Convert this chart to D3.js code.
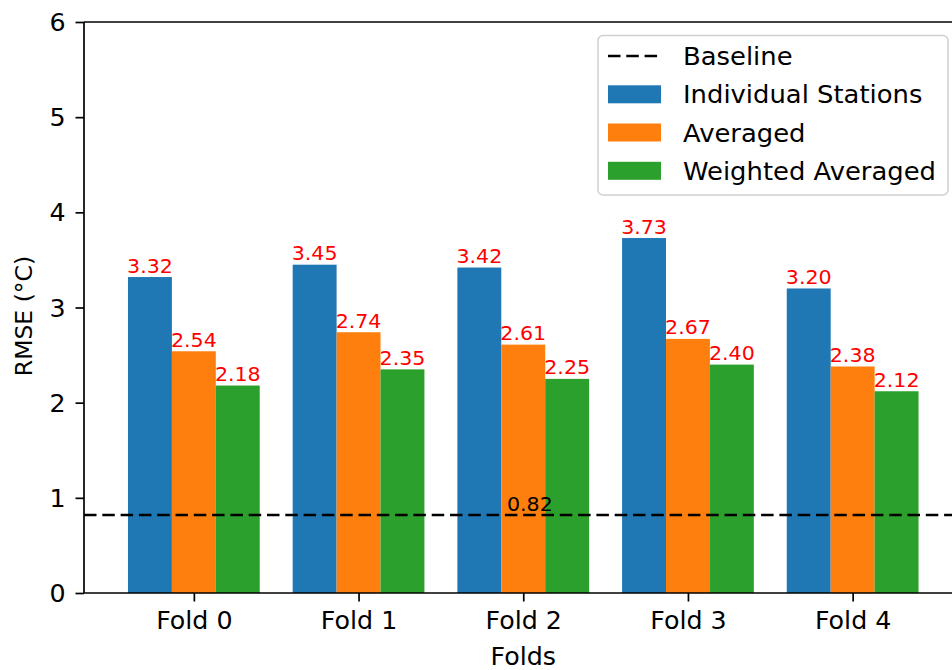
<!DOCTYPE html>
<html>
<head>
<meta charset="utf-8">
<script src="https://cdn.jsdelivr.net/npm/d3@7/dist/d3.min.js"></script>
<style>
  html, body { margin: 0; padding: 0; background: #fff; }
  svg { display: block; font-family: "DejaVu Sans", sans-serif; }
</style>
</head>
<body>
<svg id="chart" width="952" height="670"></svg>
<script>
// Cross-validation RMSE per fold for three interpolation strategies
const folds = ["Fold 0", "Fold 1", "Fold 2", "Fold 3", "Fold 4"];
const seriesNames = ["Individual Stations", "Averaged", "Weighted Averaged"];
const individualStations = [3.32, 3.45, 3.42, 3.73, 3.20];
const averaged = [2.54, 2.74, 2.61, 2.67, 2.38];
const weightedAveraged = [2.18, 2.35, 2.25, 2.40, 2.12];
const baselineValue = 0.82;
const yTicks = [0, 1, 2, 3, 4, 5, 6];
const colors = ["#1f77b4", "#ff7f0e", "#2ca02c"];

const series = [individualStations, averaged, weightedAveraged];

const svg = d3.select("#chart");
const plotTop = 22, plotBottom = 593;
const sx = 1.055; // slight horizontal stretch of glyphs

// x in fold units; the plot spans -0.667 .. 4.667 (right edge runs off the canvas)
const xMin = -0.667, xMax = 4.667;
const x = d3.scaleLinear().domain([xMin, xMax]).range([84, 962.5]);
const barW = 0.8 / 3;

const y = d3.scaleLinear().domain([0, 6]).range([plotBottom, plotTop]);

const place = (px, py) => `translate(${px},${py}) scale(${sx},1)`;

// bars
series.forEach((vals, k) => {
  const off = (k - 1) * barW;
  svg.append("g").selectAll("rect")
    .data(vals)
    .join("rect")
    .attr("x", (d, i) => x(i + off - barW / 2))
    .attr("width", (d, i) => x(i + off + barW / 2) - x(i + off - barW / 2))
    .attr("y", d => y(d))
    .attr("height", d => y(0) - y(d))
    .attr("fill", colors[k]);

  svg.append("g").selectAll("text")
    .data(vals)
    .join("text")
    .attr("transform", (d, i) => place(x(i + off), y(d) - 4.5))
    .attr("text-anchor", "middle")
    .attr("font-size", "19.5px")
    .attr("fill", "#ff0000")
    .text(d => d.toFixed(2));
});

// baseline
svg.append("line")
  .attr("x1", x(xMin)).attr("x2", x(xMax))
  .attr("y1", y(baselineValue)).attr("y2", y(baselineValue))
  .attr("stroke", "#000")
  .attr("stroke-width", 2.6)
  .attr("stroke-dasharray", "12.5,5.8");
svg.append("text")
  .attr("transform", place(x(2.04), y(baselineValue) - 3.5))
  .attr("text-anchor", "middle")
  .attr("font-size", "19.5px")
  .attr("fill", "#000")
  .text(baselineValue.toFixed(2));

// axes frame
const frame = svg.append("g").attr("stroke", "#000").attr("stroke-width", 1.7).attr("fill", "none");
frame.append("line").attr("x1", x(xMin)).attr("x2", x(xMin)).attr("y1", plotTop).attr("y2", plotBottom);
frame.append("line").attr("x1", x(xMin)).attr("x2", x(xMax)).attr("y1", plotTop).attr("y2", plotTop);
frame.append("line").attr("x1", x(xMin)).attr("x2", x(xMax)).attr("y1", plotBottom).attr("y2", plotBottom);
frame.append("line").attr("x1", x(xMax)).attr("x2", x(xMax)).attr("y1", plotTop).attr("y2", plotBottom);

// y axis
const yAxis = d3.axisLeft(y).tickValues(yTicks).tickFormat(d3.format("d")).tickSize(8.5).tickPadding(9);
const gy = svg.append("g").attr("transform", `translate(${x(xMin)},0)`).call(yAxis);
gy.select(".domain").remove();
gy.selectAll(".tick line").attr("stroke", "#000").attr("stroke-width", 1.7);
gy.selectAll(".tick text").attr("font-size", "24px").attr("font-family", "DejaVu Sans").attr("fill", "#000").attr("dy", "0.36em")
  .attr("transform", `scale(${sx},1)`);

// x axis
const xAxis = d3.axisBottom(x).tickValues([0, 1, 2, 3, 4]).tickFormat(i => folds[i]).tickSize(8.5).tickPadding(10);
const gx = svg.append("g").attr("transform", `translate(0,${plotBottom})`).call(xAxis);
gx.select(".domain").remove();
gx.selectAll(".tick line").attr("stroke", "#000").attr("stroke-width", 1.7);
gx.selectAll(".tick text").attr("font-size", "24px").attr("font-family", "DejaVu Sans").attr("fill", "#000")
  .attr("transform", `scale(${sx},1)`);

// axis titles
svg.append("text")
  .attr("transform", place((x(xMin) + x(xMax)) / 2, 665))
  .attr("text-anchor", "middle")
  .attr("font-size", "24px")
  .text("Folds");
svg.append("text")
  .attr("transform", "translate(32,316) rotate(-90)")
  .attr("text-anchor", "middle")
  .attr("font-size", "23.5px")
  .text("RMSE (°C)");

// legend
const lg = svg.append("g");
lg.append("rect")
  .attr("x", 598).attr("y", 35.5)
  .attr("width", 350).attr("height", 159.5)
  .attr("rx", 5)
  .attr("fill", "#fff").attr("fill-opacity", 0.8)
  .attr("stroke", "#d0d0d0").attr("stroke-width", 1.5);
const rowY = [56, 94.3, 132.5, 170.8];
const legendItems = ["Baseline"].concat(seriesNames);
legendItems.forEach((name, i) => {
  const cy = rowY[i];
  if (i === 0) {
    lg.append("line")
      .attr("x1", 608).attr("x2", 661)
      .attr("y1", cy).attr("y2", cy)
      .attr("stroke", "#000").attr("stroke-width", 2.6)
      .attr("stroke-dasharray", "12.5,5.8");
  } else {
    lg.append("rect")
      .attr("x", 608).attr("y", cy - 9)
      .attr("width", 53).attr("height", 18)
      .attr("fill", colors[i - 1]);
  }
  lg.append("text")
    .attr("transform", place(683, cy + 9))
    .attr("font-size", "24.5px")
    .text(name);
});
</script>
</body>
</html>
